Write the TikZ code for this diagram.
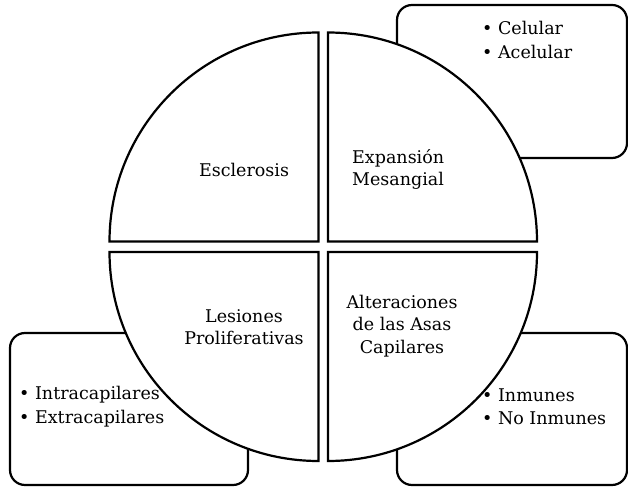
\documentclass[tikz,border=0pt]{standalone}
\usepackage{fontspec}
\setmainfont{DejaVu Serif}
\begin{document}
\begin{tikzpicture}[x=1pt,y=1pt,
  quad/.style={draw=black,line width=2.2pt,fill=white},
  side/.style={draw=black,line width=2.2pt,fill=white,rounded corners=15pt},
  lbl/.style={font=\fontsize{17.5}{22.5}\selectfont,align=center,inner sep=0pt},
  blist/.style={font=\fontsize{17.5}{23.5}\selectfont,align=left,anchor=west,inner sep=0pt}]
\useasboundingbox (0,0) rectangle (628,487);
% side boxes
\path[side] (397,329) rectangle (627,482);
\path[side] (10,2) rectangle (248,154);
\path[side] (397,2) rectangle (627,154);
% quadrants
\path[quad] (318.5,245.5) -- ++(-209,0) arc[start angle=180,end angle=90,radius=209] -- cycle;
\path[quad] (328,245.5) -- ++(0,209) arc[start angle=90,end angle=0,radius=209] -- cycle;
\path[quad] (318.5,235) -- ++(0,-209) arc[start angle=270,end angle=180,radius=209] -- cycle;
\path[quad] (328,235) -- ++(209,0) arc[start angle=0,end angle=-90,radius=209] -- cycle;
% labels
\node[lbl] (escl) at (244,317) {Esclerosis};
\node[lbl,align=left,anchor=west] (exp) at (352,317.5) {Expansión\\Mesangial};
\node[lbl] (les) at (244,160) {Lesiones\\Proliferativas};
\node[lbl] (alt) at (402,161) {Alteraciones\\de las Asas\\Capilares};
\node[blist] (cel) at (482,447) {• Celular\\• Acelular};
\node[blist] (intra) at (19,80.5) {• Intracapilares\\• Extracapilares};
\node[blist] (inm) at (482,80.5) {• Inmunes\\• No Inmunes};
\end{tikzpicture}
\end{document}
